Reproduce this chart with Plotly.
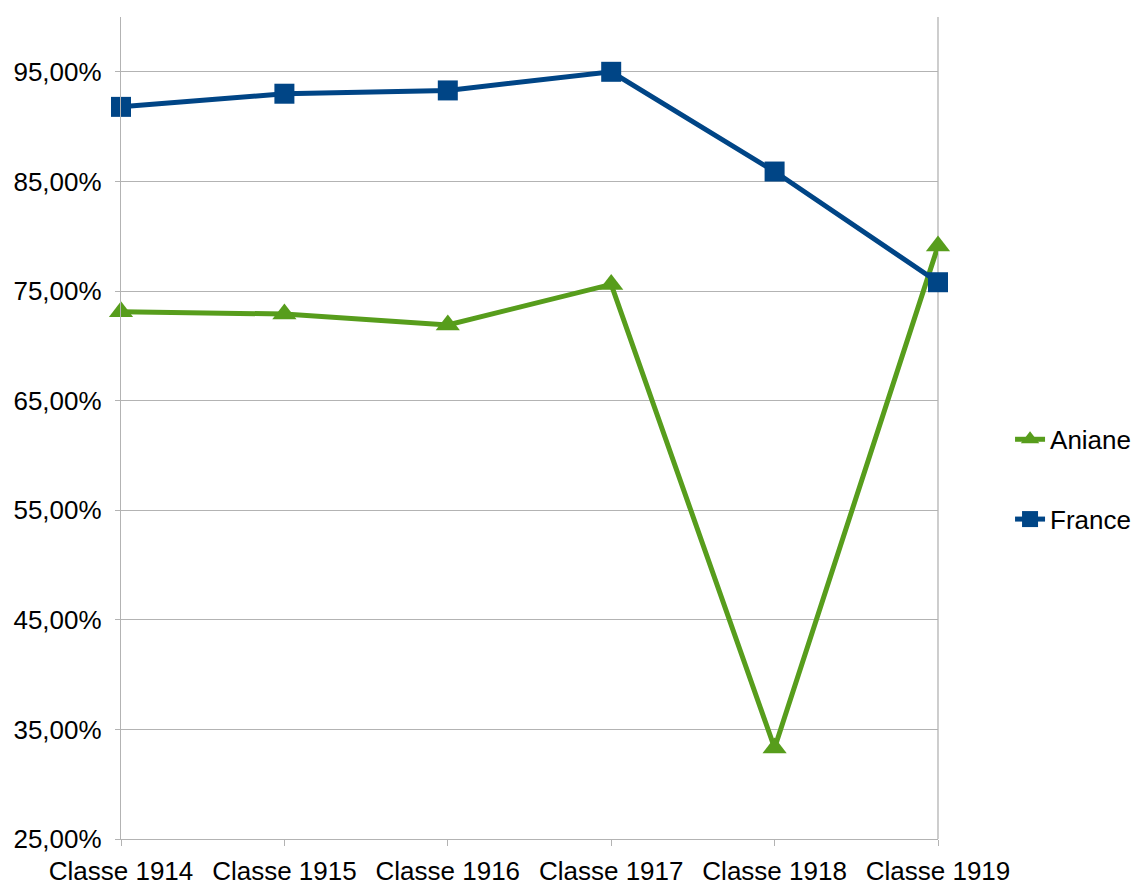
import plotly.graph_objects as go

categories = ["Classe 1914", "Classe 1915", "Classe 1916", "Classe 1917", "Classe 1918", "Classe 1919"]
aniane = [0.731, 0.729, 0.719, 0.756, 0.333, 0.791]
france = [0.918, 0.930, 0.933, 0.950, 0.859, 0.758]
y_ticks = [0.25, 0.35, 0.45, 0.55, 0.65, 0.75, 0.85, 0.95]

GREEN = "#579d1c"
BLUE = "#004586"
GRID = "#b3b3b3"
FONT = "Liberation Sans, Arial, sans-serif"
FS = 26

fig = go.Figure()
fig.add_trace(go.Scatter(
    x=categories, y=aniane, name="Aniane", mode="lines+markers",
    line=dict(color=GREEN, width=5),
    marker=dict(symbol="triangle-up", size=21, color=GREEN),
    cliponaxis=False, legendgroup="a",
))
fig.add_trace(go.Scatter(
    x=categories, y=france, name="France", mode="lines+markers",
    line=dict(color=BLUE, width=5),
    marker=dict(symbol="square", size=20, color=BLUE),
    cliponaxis=False, legendgroup="f",
))

# right border line of the plot area
fig.add_shape(type="line", xref="paper", yref="paper", x0=1, x1=1, y0=0, y1=1,
              line=dict(color=GRID, width=1.3), layer="below")

fig.update_layout(
    width=1136, height=885,
    margin=dict(l=121, r=198, t=17, b=46, autoexpand=False),
    paper_bgcolor="white", plot_bgcolor="white",
    separators=", ",
    font=dict(family=FONT, size=FS, color="black"),
    showlegend=True,
    legend=dict(x=1.2424, xanchor="right", y=0.4375, yanchor="middle",
                tracegroupgap=43, font=dict(size=FS, family=FONT),
                bgcolor="rgba(0,0,0,0)"),
    xaxis=dict(
        type="category", range=[0, 5], showgrid=False,
        showline=True, linecolor=GRID, linewidth=1.3,
        ticks="outside", ticklen=6, tickcolor=GRID, tickwidth=1.3,
        tickfont=dict(size=FS, family=FONT, color="black"),
        ticklabelstandoff=3,
        zeroline=False,
    ),
    yaxis=dict(
        range=[0.25, 1.0], tickvals=y_ticks, tickformat=".2%",
        showgrid=True, gridcolor=GRID, gridwidth=1.3,
        showline=True, linecolor=GRID, linewidth=1.3,
        ticks="outside", ticklen=5, tickcolor=GRID, tickwidth=1.3,
        tickfont=dict(size=FS, family=FONT, color="black"),
        ticklabelstandoff=8,
        zeroline=False,
    ),
)

fig.write_html(
    "out.html",
    config={"displayModeBar": False},
    post_script="document.body.style.margin='0';document.documentElement.style.overflow='hidden';",
)
